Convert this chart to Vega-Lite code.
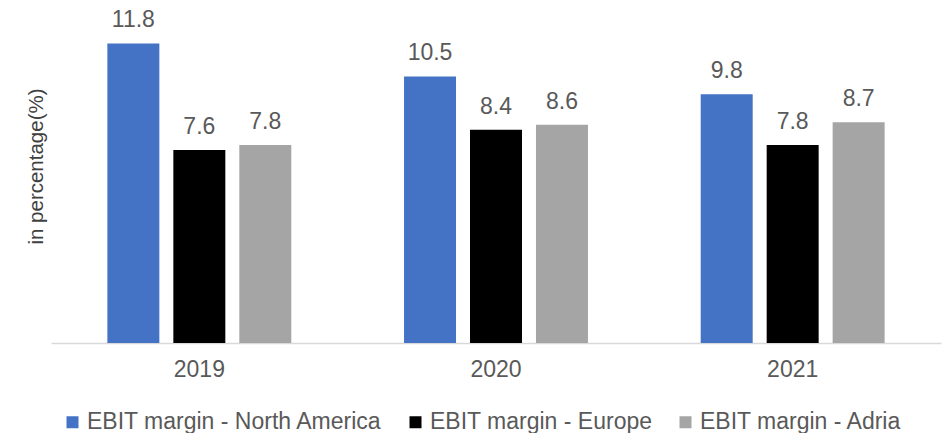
{
  "$schema": "https://vega.github.io/schema/vega-lite/v6.json",
  "width": 890,
  "height": 330,
  "autosize": "none",
  "padding": {"left": 51, "top": 13, "right": 3, "bottom": 90},
  "background": "white",
  "config": {"view": {"stroke": null}, "font": "Liberation Sans"},
  "data": {
    "values": [
      {"year": "2019", "series": "EBIT margin - North America", "value": 11.8},
      {"year": "2019", "series": "EBIT margin - Europe", "value": 7.6},
      {"year": "2019", "series": "EBIT margin - Adria", "value": 7.8},
      {"year": "2020", "series": "EBIT margin - North America", "value": 10.5},
      {"year": "2020", "series": "EBIT margin - Europe", "value": 8.4},
      {"year": "2020", "series": "EBIT margin - Adria", "value": 8.6},
      {"year": "2021", "series": "EBIT margin - North America", "value": 9.8},
      {"year": "2021", "series": "EBIT margin - Europe", "value": 7.8},
      {"year": "2021", "series": "EBIT margin - Adria", "value": 8.7}
    ]
  },
  "encoding": {
    "x": {
      "field": "year", "type": "nominal",
      "scale": {"paddingInner": 0.38, "paddingOuter": 0.19},
      "axis": {"title": null, "labelAngle": 0, "labelFontSize": 23, "labelColor": "#595959", "ticks": false, "labelPadding": 15, "domainColor": "#D9D9D9", "domainWidth": 1.5}
    },
    "xOffset": {
      "field": "series", "type": "nominal",
      "sort": ["EBIT margin - North America", "EBIT margin - Europe", "EBIT margin - Adria"],
      "scale": {"paddingInner": 0.212, "paddingOuter": 0}
    },
    "y": {
      "field": "value", "type": "quantitative",
      "scale": {"domain": [0, 13]},
      "axis": {"title": "in percentage(%)", "labels": false, "ticks": false, "domain": false, "grid": false, "titleFontSize": 20.5, "titleFontWeight": "normal", "titleColor": "#404040", "titleX": -5, "titleY": 153}
    }
  },
  "layer": [
    {
      "mark": {"type": "bar"},
      "encoding": {
        "color": {
          "field": "series", "type": "nominal",
          "scale": {"domain": ["EBIT margin - North America", "EBIT margin - Europe", "EBIT margin - Adria"], "range": ["#4472C4", "#000000", "#A5A5A5"]},
          "legend": {"title": null, "orient": "none", "direction": "horizontal", "legendX": 10, "legendY": 397.5, "padding": 0, "symbolType": "square", "symbolSize": 144, "symbolStrokeWidth": 0, "labelFontSize": 23, "labelColor": "#595959", "labelOffset": 3, "columnPadding": 21, "labelLimit": 0}
        }
      }
    },
    {
      "mark": {"type": "text", "dy": -16, "baseline": "alphabetic", "fontSize": 23, "color": "#595959"},
      "encoding": {"text": {"field": "value", "type": "quantitative", "format": ".1f"}}
    }
  ]
}
